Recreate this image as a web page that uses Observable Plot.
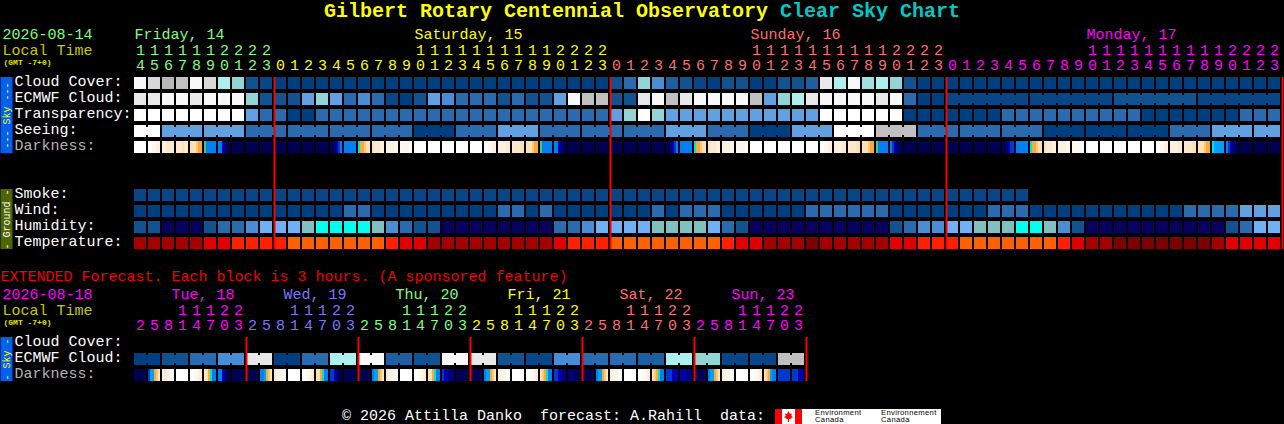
<!DOCTYPE html>
<html>
<head>
<meta charset="utf-8">
<script src="https://cdn.jsdelivr.net/npm/d3@7"></script>
<script src="https://cdn.jsdelivr.net/npm/@observablehq/plot@0.6"></script>
<style>
html,body{margin:0;padding:0;background:#000;overflow:hidden}
body{width:1284px;height:424px;position:relative;font-family:"Liberation Mono",monospace}
#title{height:22px;line-height:23px;text-align:center;font-size:20px;font-weight:bold;color:#ff0;white-space:pre}
#title span{color:#00c8c8}
svg{display:block;background:#000}
#foot{position:absolute;left:0;top:408px;width:1284px;height:16px;color:#fff;font-size:15px;line-height:17px}
#foot .t{position:absolute;left:342px;top:0;white-space:pre}
#foot .box{position:absolute;left:775px;top:1px;width:166px;height:15px;background:#fff}
#foot .env{position:absolute;top:0;height:14px;color:#000;font:7.6px/7px "Liberation Sans",sans-serif;letter-spacing:.35px;white-space:pre}
</style>
</head>
<body>
<div id="title">Gilbert Rotary Centennial Observatory <span>Clear Sky Chart</span></div>
<div id="c1"></div>
<div id="c2"></div>
<div id="foot">
<div class="t">© 2026 Attilla Danko  forecast: A.Rahill  data:</div>
<div class="box">
<svg width="27" height="15" viewBox="0 0 27 15" style="position:absolute;left:0;top:0;background:#fff">
<rect width="7" height="15" fill="#f00"/><rect x="20" width="7" height="15" fill="#f00"/>
<polygon points="13.5,2 15,5 17,4.5 16.2,7 18,8 15,10 14,10 14,13 13,13 13,10 12,10 9,8 10.8,7 10,4.5 12,5" fill="#f00"/>
</svg>
<div class="env" style="left:40px">Environment
Canada</div>
<div class="env" style="left:106px">Environnement
Canada</div>
</div>
</div>
<script>
// ---- palettes (codes used by the rows below) ----
const cloudPalette = {
  c0:"#003f7f", c0p:"#0a4685", c1:"#12528f", c1b:"#1f5f9f", c2:"#2a6aad", c3:"#4a8dd4", c4:"#62a0e2",
  g5:"#93d5d5", g5p:"#a0e0e0", g6:"#afeeee",
  s1:"#c0c0c0", s1b:"#b8b8b8", s2:"#d8d8d8", s3:"#e8e8e8", s4:"#f8f8f8", w:"#ffffff",
  h0:"#08005f", h4:"#70b0f5", h5:"#80c0c0", h6:"#00ffee",
  t0:"#7c0000", t1:"#a50000", t2:"#e10000", t3:"#ff2000", t4:"#ff6000"
};
const darkPalette = {
  n:"#000050", m:"#000078", b:"#0000a8", k:"#0038d0", s:"#0080f0", a:"#00a0ff", c:"#00e0e0", g:"#50c080",
  o:"#ffa830", p:"#ffc880", q:"#ffe0b0", r:"#ffe8cc", t:"#fff0e0", u:"#fff8f0", w:"#ffffff"
};
// ---- hourly forecast rows: "x*n" = n separate blocks, "x+n" = n blocks joined ----
const cloudCover = "s4 s2 s1b s1 s4 s2 g6 g5 c1 c0p c0*24 c1 c2 g5 c3 c1b c1 c0p c0 c1 c1 c0 c0 c1 c1 c1b s3 g6 s4 g5p g6 g5 c1 c0*26";
const ecmwfCloud = "s3 s3 s4 s4 s3 s4 s4 s4 g5 c1 c1 c1 c4 g5 c4 c2 c3 c2 c0p c0 c1 c4 c3 c2 c2 c2 c1 c2 c1 c1 c4 s4 s1 s1 c1 c1 s3 s4 s1 s3 s4 s4 s4 s4 s1 c4 g5 g6 s3 s4 s4 s4 s4 s3 s4 c2 c0 c0 c0p+6 c0p+6 c1+6 c0p+6";
const transparency = "w*8 c4 c2 c2 c0 c0 c2*21 c4 g5 w g5 c4*11 w*6 c0*7 c2*10 c0*7 c2*3";
const seeing = "w+2 c4+3 c4+3 c2+3 c2+3 c2+3 c2+3 c0+3 c2+3 c4+3 c2+3 c2+3 c2+3 c4+3 c2+3 c0+3 c4+3 w+3 s1+3 c2+3 c2+3 c2+3 c0+3 c0+3 c0+3 c2+3 c4+3 c4+2";
const smoke = "c0p*64";
const wind = "c0*15 c2 c2 c0*9 c2 c2 c0 c2 c0*7 c2 c0 c2 c2 c2 c0*6 c2*6 c0*7 c2*3 c0*11 c2*4 c4*3";
const humidity = "c1 c1 h0*3 c1 c2 c2 c3 h4*3 h5 h6*4 h5 c3 c2 c1 c1 h0*8 c2 c2 c3 h4*4 h5*4 h4 c2 c1 h0*10 c1 c2 c3 c3 h4 h4 h5*3 h6 h6 h5 c3 c1 h0*10 c1 c2 h4 h4";
const temperature = "t1*5 t2 t2 t3*4 t4*7 t3 t2 t2 t1*9 t2 t3*3 t4*8 t3 t2 t2 t1*3 t0 t1*5 t2 t2 t3*3 t4*7 t3 t2 t1 t1 t0*7 t1 t2*4";
// darkness: each block is a list of colour steps from left to right
const darkness = ["w","wwuutt","ttrrrr","rrrqrr","qqqpoo","gsssss","ssbmnn","n","n","n","n","n","n","n","nnmbks","s","coopqq","qrrrtt","ttttuu","uuuuuw","w","w",
  "w","w","w","wwuutt","ttttrr","rrrrqq","qqqpoo","gsssss","ssbmmn","n","n","n","n","n","n","n","nnmbks","s","coopqq","qrrrtt","ttttuu","uuuuuw","w","w","w","w","w","wwuutt","ttttrr","rrrrqq",
  "qqqpoo","gsssss","skbmmn","n","n","n","n","n","n","n","nnmbkk","s","coopqq","qrrrtt","ttttuu","uuuuuw","uwwwww","w","w","w","w","wwuutt","ttttrr","rrrrqq","qqqpoo","caaaaa","skbmmn","n","n","n"];
// ---- extended 3-hourly rows ----
const extEcmwf = "c0+2 c1+2 c2+2 c3+2 s3+2 c0+2 c2+2 g6+2 s4+2 c1b+2 c1+2 s4+2 s3+2 c1+2 c0p+2 c3+2 c2+2 c2+2 c1b+2 g6+2 g5+2 c0p+2 c0p+2 s1+2";
const extDarkness = ["n","kaaopr","trtuuw","w","wwuutr","rqocss","ssbmnn","n",
  "n","ssaopr","rttuuw","w","wwuutr","qqocss","kkbmnn","n",
  "n","saaopr","rttuuw","w","wwuutr","qqocss","kbbmmm","n",
  "n","saaopr","ttuuww","w","wwuutr","qpocss","kkbbmm","mmmnnn",
  "n","saaopr","ttuuww","w","wwuutr","qpocss","kkkbbb","bbbmmm",
  "n","saaopr","ttuuww","w","wwuutr","qpoass","kkkkkk","kkkbbb"];
// ---- labels ----
const rowLabels = ["Cloud Cover:","ECMWF Cloud:","Transparency:","Seeing:","Darkness:","Smoke:","Wind:","Humidity:","Temperature:"];
const hourDigits = "14 15 16 17 18 19 20 21 22 23 00 01 02 03 04 05 06 07 08 09 10 11 12 13 14 15 16 17 18 19 20 21 22 23 00 01 02 03 04 05 06 07 08 09 10 11 12 13 14 15 16 17 18 19 20 21 22 23 00 01 02 03 04 05 06 07 08 09 10 11 12 13 14 15 16 17 18 19 20 21 22 23".split(" ");
const extHours = ["02","05","08","11","14","17","20","23"];
const days = [{label:"Friday, 14",col:0,first:0,color:"#80ff80"},{label:"Saturday, 15",col:20,first:10,color:"#ffff00"},{label:"Sunday, 16",col:44,first:34,color:"#ff7070"},{label:"Monday, 17",col:68,first:58,color:"#ff00ff"}];
const extDays = [{label:"Tue, 18",color:"#ff00ff"},{label:"Wed, 19",color:"#7878ff"},{label:"Thu, 20",color:"#80ff80"},{label:"Fri, 21",color:"#ffff00"},{label:"Sat, 22",color:"#ff7070"},{label:"Sun, 23",color:"#ff00ff"}];
const midnights = [10,34,58,82];
const extMidnights = [8,16,24,32,40,48];

// ---- helpers ----
const CELL = 12/14;                       // block width as a share of a column
const FONT = '"Liberation Mono",monospace';
function parseRow(str, row){
  const cells = [], links = []; let col = 0;
  for (const tok of str.split(" ")){
    const m = tok.match(/^(\w+?)(?:([*+])(\d+))?$/);
    const n = m[3] ? +m[3] : 1;
    for (let k=0;k<n;k++){
      cells.push({row, col, x1:col, x2:col+CELL, fill:cloudPalette[m[1]]});
      if (m[2]==="+" && k<n-1) links.push({row, x1:col+CELL-0.01, x2:col+1.01, fill:cloudPalette[m[1]]});
      col++;
    }
  }
  return {cells, links};
}
function parseDark(list, row){
  const out = [];
  list.forEach((s,col)=>{
    [...s].forEach((ch,j)=>{
      out.push({row, x1:col+CELL*j/s.length, x2:col+CELL*(j+1)/s.length+(j<s.length-1?0.005:0), fill:darkPalette[ch]});
    });
  });
  return out;
}
const cellMarks = (d) => Plot.barX(d, {x1:"x1", x2:"x2", y:"row", fill:"fill"});
const linkMarks = (d) => Plot.barX(d, {x1:"x1", x2:"x2", y:"row", fill:"fill", insetTop:2, insetBottom:2});
const txt = (d, o) => Plot.text(d, Object.assign({fontFamily:FONT, fontSize:15, textAnchor:"start"}, o));
const sideBar = (y1,y2,color) => Plot.ruleX([-128/14], {y1:()=>y1, y2:()=>y2, stroke:color, strokeWidth:12});

// ---- main chart ----
const mainRows = [[cloudCover,"Cloud Cover:"],[ecmwfCloud,"ECMWF Cloud:"],[transparency,"Transparency:"],[seeing,"Seeing:"],[smoke,"Smoke:"],[wind,"Wind:"],[humidity,"Humidity:"],[temperature,"Temperature:"]].map(([s,r])=>parseRow(s,r));
const mainCells = mainRows.flatMap(r=>r.cells), mainLinks = mainRows.flatMap(r=>r.links);
const hourColor = (i) => days.filter(d=>i>=d.first).pop().color;
const hours = hourDigits.map((h,i)=>({i,h,color:hourColor(i)}));

const chart1 = Plot.plot({
  width:1284, height:240, marginLeft:134, marginRight:2, marginTop:3, marginBottom:9,
  style:{background:"#000"},
  x:{domain:[0,82], axis:null},
  y:{type:"band", domain:["date","tens","units",rowLabels[0],rowLabels[1],rowLabels[2],rowLabels[3],rowLabels[4],"gap1","gap2",rowLabels[5],rowLabels[6],rowLabels[7],rowLabels[8]], padding:0.25, round:false, axis:null},
  color:{type:"identity"},
  marks:[
    cellMarks(mainCells), linkMarks(mainLinks), cellMarks(parseDark(darkness,"Darkness:")),
    Plot.ruleX(midnights,{x:d=>d, y1:()=>rowLabels[0], y2:()=>rowLabels[8], stroke:"#f00", strokeWidth:2}),
    sideBar(rowLabels[0],rowLabels[4],"#0060f0"), sideBar(rowLabels[5],rowLabels[8],"#4f6600"),
    txt(["--- Sky ---"],{x:-128/14,y:()=>rowLabels[2],text:d=>d,fontSize:10,rotate:-90,textAnchor:"middle",fill:"#ffff00"}),
    txt(["- Ground -"],{x:-128/14,y:()=>rowLabels[6],dy:8,text:d=>d,fontSize:10,rotate:-90,textAnchor:"middle",fill:"#ffffff"}),
    txt(rowLabels,{frameAnchor:"left",dx:-120,y:d=>d,text:d=>d,dy:-2.5,fill:d=>d==="Darkness:"?"#b4b4b4":"#ffffff"}),
    txt(["2026-08-14"],{frameAnchor:"left",dx:-132,y:()=>"date",dy:-1,text:d=>d,fill:"#80ff80"}),
    txt(["Local Time"],{frameAnchor:"left",dx:-132,y:()=>"tens",dy:-1.5,text:d=>d,fill:"#c8c800"}),
    txt(["(GMT -7+0)"],{frameAnchor:"left",dx:-131,y:()=>"units",dy:-5,text:d=>d,fontSize:8,fontWeight:"bold",fill:"#e0e000"}),
    txt(days,{x:"col",y:()=>"date",dy:-1,text:"label",fill:"color"}),
    txt(hours.filter(d=>d.h[0]!=="0"),{x:d=>d.i+CELL/2,y:()=>"tens",dy:-1.5,text:d=>d.h[0],textAnchor:"middle",fill:"color"}),
    txt(hours,{x:d=>d.i+CELL/2,y:()=>"units",dy:-2,text:d=>d.h[1],textAnchor:"middle",fill:"color"})
  ]
});
document.getElementById("c1").append(chart1);

// ---- extended chart ----
const ext = parseRow(extEcmwf,"ECMWF Cloud:");
const extHoursAll = extDays.flatMap((d,k)=>extHours.map((h,j)=>({i:k*8+j,h,color:d.color})));
const chart2 = Plot.plot({
  width:1284, height:132, marginLeft:134, marginRight:2, marginTop:7, marginBottom:9,
  style:{background:"#000"},
  x:{domain:[0,82], axis:null},
  y:{type:"band", domain:["note","date","tens","units",rowLabels[0],rowLabels[1],rowLabels[4]], padding:0.25, round:false, axis:null},
  color:{type:"identity"},
  marks:[
    cellMarks(ext.cells), linkMarks(ext.links), cellMarks(parseDark(extDarkness,"Darkness:")),
    Plot.ruleX(extMidnights,{x:d=>d, y1:()=>rowLabels[0], y2:()=>rowLabels[4], stroke:"#f00", strokeWidth:2}),
    sideBar(rowLabels[0],rowLabels[4],"#0060f0"),
    txt(["- Sky -"],{x:-128/14,y:()=>rowLabels[1],text:d=>d,fontSize:10,rotate:-90,textAnchor:"middle",fill:"#ffff00"}),
    txt(["EXTENDED Forecast. Each block is 3 hours. (A sponsored feature)"],{frameAnchor:"left",dx:-134,y:()=>"note",dy:-3.5,text:d=>d,fill:"#f00000"}),
    txt(["2026-08-18"],{frameAnchor:"left",dx:-132,y:()=>"date",dy:-1,text:d=>d,fill:"#ff00ff"}),
    txt(["Local Time"],{frameAnchor:"left",dx:-132,y:()=>"tens",dy:-1.5,text:d=>d,fill:"#c8c800"}),
    txt(["(GMT -7+0)"],{frameAnchor:"left",dx:-131,y:()=>"units",dy:-5,text:d=>d,fontSize:8,fontWeight:"bold",fill:"#e0e000"}),
    txt([rowLabels[0],rowLabels[1],rowLabels[4]],{frameAnchor:"left",dx:-120,y:d=>d,text:d=>d,dy:-2.5,fill:d=>d==="Darkness:"?"#b4b4b4":"#ffffff"}),
    txt(extDays,{x:(d,k)=>k*8+37/14,y:()=>"date",dy:-1,text:"label",fill:"color"}),
    txt(extHoursAll.filter(d=>d.h[0]!=="0"),{x:d=>d.i+CELL/2,y:()=>"tens",dy:-1.5,text:d=>d.h[0],textAnchor:"middle",fill:"color"}),
    txt(extHoursAll,{x:d=>d.i+CELL/2,y:()=>"units",dy:-2,text:d=>d.h[1],textAnchor:"middle",fill:"color"})
  ]
});
document.getElementById("c2").append(chart2);
</script>
</body>
</html>
